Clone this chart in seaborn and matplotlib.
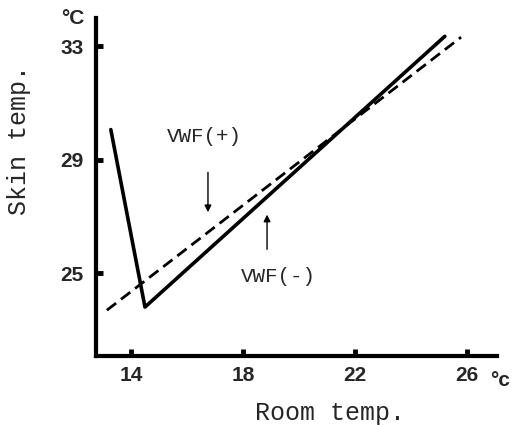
import matplotlib
matplotlib.use("Agg")
import matplotlib.pyplot as plt
import seaborn as sns
import pandas as pd

# data
room_vwf_minus = [13.28, 14.5, 25.21]   # solid line
skin_vwf_minus = [30.06, 23.8, 33.35]
room_vwf_plus = [13.14, 25.79]          # dashed line
skin_vwf_plus = [23.69, 33.32]
x_ticks = [14, 18, 22, 26]
y_ticks = [25, 29, 33]

sns.set_style("ticks")
plt.rcParams['font.family'] = ['Liberation Sans', 'DejaVu Sans']

df_minus = pd.DataFrame({"room": room_vwf_minus, "skin": skin_vwf_minus})
df_plus = pd.DataFrame({"room": room_vwf_plus, "skin": skin_vwf_plus})

fig = plt.figure(figsize=(5.16, 4.26), dpi=100)
ax = fig.add_axes([0.186, 0.164, 0.777, 0.794])

sns.lineplot(data=df_minus, x="room", y="skin", sort=False, color="black",
             linewidth=2.6, ax=ax, estimator=None)
sns.lineplot(data=df_plus, x="room", y="skin", sort=False, color="black",
             linewidth=2.0, dashes=False, ax=ax, estimator=None,
             linestyle=(0, (4.2, 2.2)))

ax.set_xlim(12.75, 27.07)
ax.set_ylim(22.07, 34.0)
ax.set_xticks(x_ticks)
ax.set_yticks(y_ticks)
ax.set_xticklabels([str(t) for t in x_ticks], fontsize=15, fontweight="bold")
ax.set_yticklabels([str(t) for t in y_ticks], fontsize=15, fontweight="bold")
# short stubby ticks pointing into the plot
ax.tick_params(direction="in", length=5, width=3.5, color="black")
ax.tick_params(axis="x", pad=7)
ax.tick_params(axis="y", pad=9)
for s in ["top", "right"]:
    ax.spines[s].set_visible(False)
for s in ["left", "bottom"]:
    ax.spines[s].set_linewidth(3)
    ax.spines[s].set_color("black")
ax.set_xlabel("")
ax.set_ylabel("")

mono = "Liberation Mono"
ax.annotate("", xy=(16.75, 27.05), xytext=(16.75, 28.65),
            arrowprops=dict(arrowstyle="-|>", color="black", lw=1,
                            mutation_scale=10))
ax.text(16.64, 29.81, "VWF(+)", family=mono, fontsize=15,
        ha="center", va="center")
ax.annotate("", xy=(18.86, 27.16), xytext=(18.86, 25.74),
            arrowprops=dict(arrowstyle="-|>", color="black", lw=1,
                            mutation_scale=10))
ax.text(19.25, 24.89, "VWF(-)", family=mono, fontsize=15,
        ha="center", va="center")

fig.text(330 / 516, 1 - 413 / 426, "Room temp.", family=mono, fontsize=18,
         ha="center", va="center")
fig.text(19 / 516, 1 - 140 / 426, "Skin temp.", family=mono, fontsize=18,
         ha="center", va="center", rotation=90)
fig.text(73 / 516, 1 - 19 / 426, "°C", fontsize=15, fontweight="bold",
         ha="center", va="center")
fig.text(500 / 516, 1 - 380 / 426, "°c", fontsize=15, fontweight="bold",
         ha="center", va="center")

fig.savefig("out.png", dpi=100)
